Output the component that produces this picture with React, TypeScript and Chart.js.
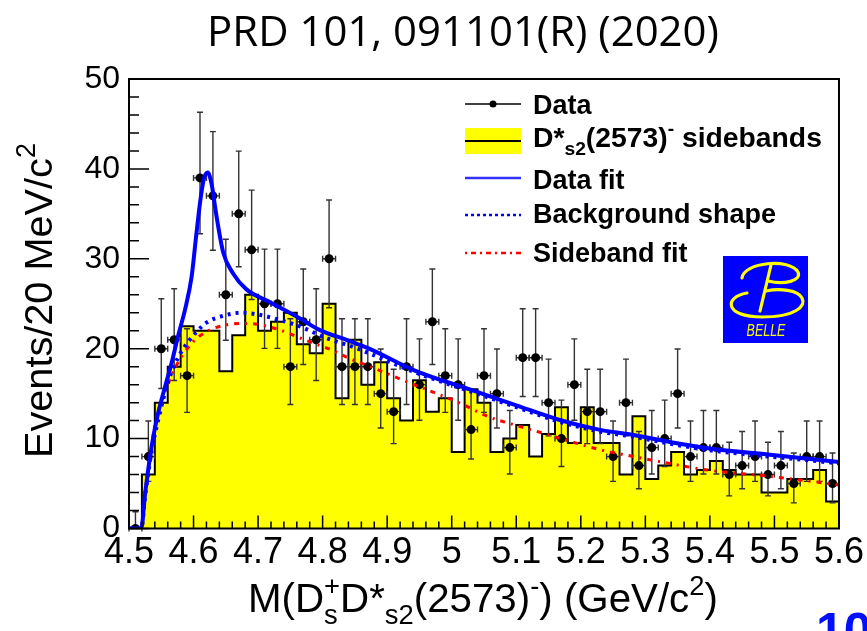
import React, { useEffect, useRef } from 'react';
import { Chart, registerables } from 'chart.js';

Chart.register(...registerables);

// ---------------- data ----------------
const BIN_START = 4.5;
const BIN_WIDTH = 0.02;

const DATA_COUNTS = [0, 8, 20, 21, 17, 39, 37, 26, 35, 31, 25, 25, 18, 23, 21, 30, 18, 18, 18, 15, 13, 18, 16, 23, 17, 16, 11, 17, 15, 9, 19, 19, 14, 10, 16, 13, 13, 8, 14, 7, 9, 10, 15, 8, 9, 9, 6, 7, 8, 6, 7, 5, 8, 8, 5];

const SIDEBAND_COUNTS = [0, 6, 14, 18, 22.5, 22, 22, 17.5, 21.5, 26, 22, 23, 24, 20.5, 19.5, 25, 14.5, 21, 16, 18.5, 14.5, 12, 16.5, 13, 14.5, 8.5, 15.5, 14, 8.5, 10, 11.5, 8, 10.5, 13.5, 9.5, 13.5, 9.5, 9.5, 6, 12.5, 5.5, 7, 8.5, 6, 6.5, 7.5, 6.5, 6, 6, 4, 4, 5.5, 5.5, 6.5, 3];

const FIT_X = [4.5, 4.519, 4.525, 4.535, 4.545, 4.556, 4.566, 4.576, 4.587, 4.597, 4.604, 4.61, 4.616, 4.622, 4.628, 4.635, 4.646, 4.661, 4.682, 4.718, 4.759, 4.795, 4.84, 4.872, 4.942, 5.035, 5.1, 5.166, 5.228, 5.282, 5.34, 5.4, 5.493, 5.6];
const FIT_Y = [0, 0, 3.9, 9.1, 12.8, 15.8, 18.4, 21.4, 24.4, 28.0, 32.5, 36.2, 38.9, 39.6, 38.3, 35.0, 30.7, 28.4, 26.6, 25.2, 23.6, 22.1, 20.9, 20.0, 17.6, 15.3, 13.7, 12.1, 11.0, 10.4, 9.6, 8.9, 8.2, 7.4];

const BKG_X = [4.5, 4.519, 4.525, 4.535, 4.545, 4.561, 4.576, 4.59, 4.605, 4.62, 4.648, 4.674, 4.7, 4.728, 4.764, 4.805, 4.847, 4.872, 4.942, 5.035, 5.1, 5.166, 5.228, 5.282, 5.34, 5.4, 5.493, 5.6];
const BKG_Y = [0, 0, 3.6, 8.6, 12.0, 16.4, 19.0, 20.6, 21.9, 22.9, 23.7, 24.0, 23.8, 23.3, 22.5, 21.2, 20.2, 19.5, 17.4, 15.1, 13.5, 11.9, 10.8, 10.2, 9.4, 8.7, 8.0, 7.25];

const SBF_X = [4.5, 4.519, 4.525, 4.54, 4.556, 4.571, 4.597, 4.62, 4.648, 4.674, 4.7, 4.733, 4.775, 4.816, 4.842, 4.867, 4.935, 5.011, 5.058, 5.089, 5.151, 5.174, 5.228, 5.282, 5.34, 5.397, 5.493, 5.6];
const SBF_Y = [0, 0, 4.0, 11.4, 15.2, 17.8, 20.6, 21.9, 22.6, 22.8, 22.7, 22.1, 20.9, 19.8, 18.9, 18.2, 16.2, 14.0, 12.4, 11.7, 10.4, 9.9, 8.8, 8.0, 7.2, 6.5, 5.8, 4.85];

const X_TICK_VALUES = [4.5, 4.6, 4.7, 4.8, 4.9, 5.0, 5.1, 5.2, 5.3, 5.4, 5.5, 5.6];
const X_TICK_LABELS = ['4.5', '4.6', '4.7', '4.8', '4.9', '5', '5.1', '5.2', '5.3', '5.4', '5.5', '5.6'];
const Y_TICK_VALUES = [0, 10, 20, 30, 40, 50];
const Y_TICK_LABELS = ['0', '10', '20', '30', '40', '50'];

const TITLE = 'PRD 101, 091101(R) (2020)';
const LEGEND_LABELS = ['Data', 'sidebands', 'Data fit', 'Background shape', 'Sideband fit'];

// ---------------- helpers ----------------
const FAM = '"Liberation Sans", Arial, Helvetica, sans-serif';

type Part = { t: string; k?: 'sub' | 'sup' | 'subsup'; s?: string };

function drawRich(ctx: CanvasRenderingContext2D, parts: Part[], x: number, y: number, size: number, weight: string, draw = true): number {
  let cx = x;
  const small = size * 0.68;
  for (const p of parts) {
    if (!p.k) {
      ctx.font = `${weight} ${size}px ${FAM}`;
      if (draw) ctx.fillText(p.t, cx, y);
      cx += ctx.measureText(p.t).width;
    } else if (p.k === 'sub') {
      ctx.font = `${weight} ${small}px ${FAM}`;
      if (draw) ctx.fillText(p.t, cx, y + size * 0.3);
      cx += ctx.measureText(p.t).width;
    } else if (p.k === 'sup') {
      ctx.font = `${weight} ${small}px ${FAM}`;
      if (draw) ctx.fillText(p.t, cx, y - size * 0.42);
      cx += ctx.measureText(p.t).width;
    } else {
      ctx.font = `${weight} ${small}px ${FAM}`;
      const w1 = ctx.measureText(p.t).width;
      const w2 = ctx.measureText(p.s || '').width;
      if (draw) {
        ctx.fillText(p.t, cx, y + size * 0.3);
        ctx.fillText(p.s || '', cx, y - size * 0.42);
      }
      cx += Math.max(w1, w2);
    }
  }
  return cx - x;
}

function errUp(n: number) {
  return Math.sqrt(n + 0.75) + 1;
}
function errLo(n: number) {
  if (n <= 0) return 0;
  return n - n * Math.pow(1 - 1 / (9 * n) - 1 / (3 * Math.sqrt(n)), 3);
}

function drawBelle(ctx: CanvasRenderingContext2D) {
  ctx.save();
  ctx.fillStyle = '#0000ff';
  ctx.fillRect(723, 256, 85, 87);
  ctx.strokeStyle = '#ffff00';
  ctx.lineWidth = 3.2;
  ctx.lineCap = 'round';
  // upper bowl
  ctx.beginPath();
  ctx.moveTo(742, 278);
  ctx.bezierCurveTo(744, 262, 790, 258, 798, 272);
  ctx.bezierCurveTo(802, 281, 784, 285, 768, 281);
  ctx.stroke();
  // stem
  ctx.beginPath();
  ctx.moveTo(771, 265);
  ctx.lineTo(760, 311);
  ctx.stroke();
  // lower loop
  ctx.beginPath();
  ctx.moveTo(747, 293);
  ctx.bezierCurveTo(724, 297, 724, 317, 762, 317);
  ctx.bezierCurveTo(796, 317, 806, 306, 802, 298);
  ctx.bezierCurveTo(798, 290, 780, 288, 766, 291);
  ctx.stroke();
  ctx.fillStyle = '#ffff00';
  ctx.font = `italic 16px ${FAM}`;
  ctx.textAlign = 'center';
  ctx.textBaseline = 'alphabetic';
  ctx.save();
  ctx.translate(766, 336);
  ctx.scale(0.78, 1);
  ctx.fillText('BELLE', 0, 0);
  ctx.restore();
  ctx.restore();
}

const decorPlugin = {
  id: 'decor',
  afterDatasetDraw(chart: any, args: any) {
    if (args.index !== 0) return;
    const ctx: CanvasRenderingContext2D = chart.ctx;
    const xs = chart.scales.x;
    const ys = chart.scales.y;
    ctx.save();
    ctx.strokeStyle = '#333';
    ctx.lineWidth = 1.4;
    DATA_COUNTS.forEach((n, k) => {
      const c = BIN_START + (k + 0.5) * BIN_WIDTH;
      const px = xs.getPixelForValue(c);
      const py = ys.getPixelForValue(n);
      const pt = ys.getPixelForValue(n + errUp(n));
      const pb = ys.getPixelForValue(n - errLo(n));
      const pl = xs.getPixelForValue(c - BIN_WIDTH / 2);
      const pr = xs.getPixelForValue(c + BIN_WIDTH / 2);
      ctx.beginPath();
      ctx.moveTo(px, pt);
      ctx.lineTo(px, pb);
      ctx.moveTo(px - 3, pt);
      ctx.lineTo(px + 3, pt);
      if (n > 0) {
        ctx.moveTo(px - 3, pb);
        ctx.lineTo(px + 3, pb);
      }
      ctx.moveTo(pl, py);
      ctx.lineTo(pr, py);
      ctx.moveTo(pl, py - 3);
      ctx.lineTo(pl, py + 3);
      ctx.moveTo(pr, py - 3);
      ctx.lineTo(pr, py + 3);
      ctx.stroke();
    });
    ctx.restore();
  },
  afterDraw(chart: any) {
    const ctx: CanvasRenderingContext2D = chart.ctx;
    const xs = chart.scales.x;
    const ys = chart.scales.y;
    const a = chart.chartArea;
    ctx.save();
    // frame
    ctx.strokeStyle = '#000';
    ctx.lineWidth = 2;
    ctx.strokeRect(a.left, a.top, a.right - a.left, a.bottom - a.top);
    // ticks
    ctx.lineWidth = 1.5;
    ctx.beginPath();
    for (let i = 0; i <= 55; i++) {
      const v = BIN_START + i * BIN_WIDTH;
      const px = xs.getPixelForValue(v);
      const len = i % 5 === 0 ? 13 : 7;
      ctx.moveTo(px, a.bottom);
      ctx.lineTo(px, a.bottom - len);
    }
    for (let i = 0; i <= 25; i++) {
      const py = ys.getPixelForValue(i * 2);
      const len = i % 5 === 0 ? 20 : 10;
      ctx.moveTo(a.left, py);
      ctx.lineTo(a.left + len, py);
    }
    ctx.stroke();

    ctx.fillStyle = '#000';
    ctx.textAlign = 'left';
    ctx.textBaseline = 'alphabetic';

    // title
    ctx.font = `40px "Open Sans", "Noto Sans", sans-serif`;
    const tw = ctx.measureText(TITLE).width;
    const tsize = 40 * 512 / tw;
    ctx.font = `${tsize}px "Open Sans", "Noto Sans", sans-serif`;
    ctx.textAlign = 'center';
    ctx.fillText(TITLE, 463, 46);
    ctx.textAlign = 'left';

    // x title
    const xParts: Part[] = [
      { t: 'M(D' }, { k: 'subsup', t: 's', s: '+' }, { t: 'D*' }, { k: 'sub', t: 's2' },
      { t: '(2573)' }, { k: 'sup', t: '-' }, { t: ') (GeV/c' }, { k: 'sup', t: '2' }, { t: ')' },
    ];
    const xw = drawRich(ctx, xParts, 0, 0, 36, 'normal', false);
    const xsz = 36 * 470 / xw;
    drawRich(ctx, xParts, 248, 612, xsz, 'normal');

    // y title
    const yParts: Part[] = [{ t: 'Events/20 MeV/c' }, { k: 'sup', t: '2' }];
    const yw = drawRich(ctx, yParts, 0, 0, 40, 'normal', false);
    const ysz = 40 * 315 / yw;
    ctx.save();
    ctx.translate(52, 458);
    ctx.rotate(-Math.PI / 2);
    drawRich(ctx, yParts, 0, 0, ysz, 'normal');
    ctx.restore();

    // legend
    const lx0 = 465, lx1 = 521, tx = 533;
    ctx.lineCap = 'butt';
    // Data
    ctx.strokeStyle = '#000';
    ctx.lineWidth = 1.5;
    ctx.beginPath();
    ctx.moveTo(lx0, 104);
    ctx.lineTo(lx1, 104);
    ctx.stroke();
    ctx.beginPath();
    ctx.arc(493, 104, 3.5, 0, Math.PI * 2);
    ctx.fill();
    ctx.font = `bold 27px ${FAM}`;
    ctx.fillText(LEGEND_LABELS[0], tx, 114);
    // sidebands
    ctx.fillStyle = '#ffff00';
    ctx.fillRect(lx0, 128, lx1 - lx0, 26);
    ctx.strokeStyle = '#000';
    ctx.lineWidth = 2;
    ctx.beginPath();
    ctx.moveTo(lx0, 141);
    ctx.lineTo(lx1, 141);
    ctx.stroke();
    ctx.fillStyle = '#000';
    const sParts: Part[] = [{ t: 'D*' }, { k: 'sub', t: 's2' }, { t: '(2573)' }, { k: 'sup', t: '-' }, { t: ' ' + LEGEND_LABELS[1] }];
    const sw = drawRich(ctx, sParts, 0, 0, 27, 'bold', false);
    drawRich(ctx, sParts, tx, 147, 27 * 289 / sw, 'bold');
    // Data fit
    ctx.strokeStyle = '#3333ff';
    ctx.lineWidth = 2.5;
    ctx.beginPath();
    ctx.moveTo(lx0, 178);
    ctx.lineTo(lx1, 178);
    ctx.stroke();
    ctx.font = `bold 27px ${FAM}`;
    ctx.fillText(LEGEND_LABELS[2], tx, 189);
    // Background shape
    ctx.strokeStyle = '#0000ff';
    ctx.setLineDash([3, 3]);
    ctx.beginPath();
    ctx.moveTo(lx0, 215);
    ctx.lineTo(lx1, 215);
    ctx.stroke();
    ctx.fillText(LEGEND_LABELS[3], tx, 223);
    // Sideband fit
    ctx.strokeStyle = '#ff0000';
    ctx.setLineDash([2, 4, 5, 4]);
    ctx.beginPath();
    ctx.moveTo(lx0, 253);
    ctx.lineTo(lx1, 253);
    ctx.stroke();
    ctx.setLineDash([]);
    ctx.fillText(LEGEND_LABELS[4], tx, 262);

    // Belle logo
    drawBelle(ctx);

    // page number fragment
    ctx.fillStyle = '#0010ff';
    ctx.font = `bold 50px ${FAM}`;
    ctx.fillText('10', 816, 648);
    ctx.restore();
  },
};

export default function App() {
  const ref = useRef<HTMLCanvasElement | null>(null);
  useEffect(() => {
    if (!ref.current) return;
    const histPts: { x: number; y: number }[] = [{ x: BIN_START, y: 0 }];
    SIDEBAND_COUNTS.forEach((v, k) => {
      histPts.push({ x: BIN_START + k * BIN_WIDTH, y: v });
      histPts.push({ x: BIN_START + (k + 1) * BIN_WIDTH, y: v });
    });
    const dataPts = DATA_COUNTS.map((n, k) => ({ x: BIN_START + (k + 0.5) * BIN_WIDTH, y: n }));
    const mk = (xs: number[], ys: number[]) => xs.map((x, i) => ({ x, y: ys[i] }));

    const chart = new Chart(ref.current, {
      type: 'line',
      data: {
        datasets: [
          {
            label: 'sidebands', data: histPts, order: 4, fill: 'origin',
            backgroundColor: '#ffff00', borderColor: '#000', borderWidth: 2,
            pointRadius: 0, tension: 0,
          },
          {
            label: 'Data', data: dataPts, order: 3, showLine: false,
            pointRadius: 4.5, pointBackgroundColor: '#000', pointBorderWidth: 0, borderColor: '#000',
          },
          {
            label: 'Sideband fit', data: mk(SBF_X, SBF_Y), order: 2, borderColor: '#ff0000', borderWidth: 3,
            borderDash: [2, 6, 5, 6], pointRadius: 0, cubicInterpolationMode: 'monotone', fill: false,
          },
          {
            label: 'Background shape', data: mk(BKG_X, BKG_Y), order: 1, borderColor: '#0000ff', borderWidth: 4,
            borderDash: [3, 5], pointRadius: 0, cubicInterpolationMode: 'monotone', fill: false,
          },
          {
            label: 'Data fit', data: mk(FIT_X, FIT_Y), order: 0, borderColor: '#0000ff', borderWidth: 4,
            pointRadius: 0, cubicInterpolationMode: 'monotone', fill: false,
          },
        ] as any,
      },
      options: {
        animation: false,
        responsive: false,
        devicePixelRatio: 1,
        layout: { padding: { left: 0, right: 26, top: 79, bottom: 0 } },
        plugins: { legend: { display: false }, tooltip: { enabled: false }, title: { display: false } },
        scales: {
          x: {
            type: 'linear', min: 4.5, max: 5.6,
            afterBuildTicks: (s: any) => { s.ticks = X_TICK_VALUES.map((v) => ({ value: v })); },
            afterFit: (s: any) => { s.height = 102.5; },
            ticks: {
              autoSkip: false, maxRotation: 0, padding: 3, color: '#000',
              font: { family: FAM, size: 36 },
              callback: (_v: any, i: number) => X_TICK_LABELS[i],
            },
            grid: { display: false, drawTicks: false },
            border: { display: false },
          },
          y: {
            min: 0, max: 50,
            afterBuildTicks: (s: any) => { s.ticks = Y_TICK_VALUES.map((v) => ({ value: v })); },
            afterFit: (s: any) => { s.width = 129; },
            ticks: {
              padding: 9, color: '#000',
              font: { family: FAM, size: 32 },
              callback: (_v: any, i: number) => Y_TICK_LABELS[i],
            },
            grid: { display: false, drawTicks: false },
            border: { display: false },
          },
        },
      } as any,
      plugins: [decorPlugin as any],
    });
    return () => chart.destroy();
  }, []);

  return (
    <div style={{ position: 'absolute', left: 0, top: 0, width: 867, height: 631, background: '#fff', overflow: 'hidden' }}>
      <canvas ref={ref} width={867} height={631} style={{ display: 'block', width: 867, height: 631 }} />
    </div>
  );
}
